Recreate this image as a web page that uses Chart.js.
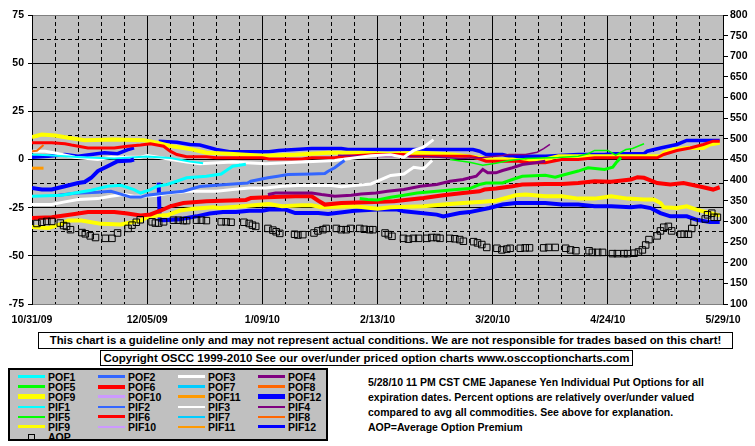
<!DOCTYPE html>
<html>
<head>
<meta charset="utf-8">
<script src="https://cdn.jsdelivr.net/npm/chart.js@4.4.0/dist/chart.umd.min.js"></script>
<style>
  html, body { margin: 0; padding: 0; background: #fff; }
  body { width: 755px; height: 446px; position: relative; overflow: hidden;
         font: bold 11px "Liberation Sans", Arial, sans-serif; color: #000; }
  #wrap { position: absolute; left: 0; top: 0; width: 755px; height: 330px; }
  .box { position: absolute; border: 1px solid #000; background: #fff; text-align: center; white-space: nowrap; }
  #disc { left: 38px; top: 332px; width: 693px; height: 15px; line-height: 15px; font-size: 11.3px; }
  #copy { left: 100px; top: 350px; width: 531px; height: 14px; line-height: 14px; font-size: 11.5px; }
  #legend { position: absolute; left: 8px; top: 368px; width: 316px; height: 69px;
            border: 2px solid #000; background: #c0c0c0; font-size: 10.5px; }
  .item { position: absolute; height: 10px; line-height: 10px; white-space: nowrap; }
  .sw { position: absolute; left: 0; width: 27px; }
  .sq { position: absolute; left: 10px; top: 2px; width: 5px; height: 5px; border: 1px solid #000; }
  .lb { position: absolute; left: 30px; top: 0; }
  #info { position: absolute; left: 368px; top: 375px; line-height: 15px; white-space: nowrap; font-size: 10.5px; }
</style>
</head>
<body>
<div id="wrap"><canvas id="chart" width="755" height="330"></canvas></div>
<div class="box" id="disc">This chart is a guideline only and may not represent actual conditions. We are not responsible for trades based on this chart!</div>
<div class="box" id="copy">Copyright OSCC 1999-2010 See our over/under priced option charts www.osccoptioncharts.com</div>
<div id="legend"></div>
<div id="info">5/28/10 11 PM CST CME Japanese Yen Individual Put Options for all<br>expiration dates. Percent options are relatively over/under valued<br>compared to avg all commodities. See above for explanation.<br>AOP=Average Option Premium</div>
<script>
// x = days since 10/31/09, y = percent over/under (left axis); AOP on right axis
const dateLabels = ['10/31/09', '12/05/09', '1/09/10', '2/13/10', '3/20/10', '4/24/10', '5/29/10'];

const pof1 = [[0,-19.1],[9,-18.6],[13,-17.4],[18,-16],[23,-13.9],[27,-13.4],[31,-15.6],[33,-17.4],[36,-15.6],[38,-13.9],[41,-13],[44,-11.3],[47,-9.5],[53,-8.7],[57.5,-7.5],[59.5,-5.2],[61,-3.5],[65,-2.5]];
const pof2 = [[8,-18.5],[13,-17.5],[20,-17],[24,-16.5],[28,-18.5],[30,-19.5],[33,-19.5],[35,-18.5],[40,-17.5],[46,-16.5],[51,-14],[59,-13],[65.5,-12.2],[66.5,-11.3],[71.7,-9.5],[74.7,-8.7],[77.8,-7.8],[85,-7.5],[89,-7.3],[90,-6.1],[92,-4.3],[94,-1.7],[95,-0.5]];
const pof3 = [[0,-23.4],[6,-23.4],[10,-22],[14,-20.8],[20,-20.3],[24,-19.1],[28,-18.2],[31,-19.1],[34,-19.1],[38,-18.6],[42,-17.4],[48,-16.5],[56,-16.5],[61,-15.6],[66,-14.8],[71,-14.8],[76,-13.9],[81,-13.5],[91,-13.5],[94,-14.2],[98,-13.5],[103,-12.7],[109,-8.3],[113,-7.5],[116,-4],[119,-4.8],[121.6,-0.5]];
const pof4 = [[71.7,-18.2],[74,-17.4],[85,-17.4],[88,-18.2],[92,-19.1],[97,-18.5],[100,-17.9],[104.5,-17.4],[108,-16.5],[113,-15.6],[118,-13.9],[123,-13],[127,-11.3],[131,-10.4],[135,-8.7],[137,-5.2],[138.5,-6.9],[141,-6.9],[143,-5.7],[146,-4.3],[149,-2.6],[153,-1.7],[156,-0.9]];
const pof5 = [[99.6,-20.3],[102,-20.8],[105,-21],[109,-19.6],[113,-18.6],[117,-17.4],[123,-16.5],[129,-15.6],[133,-15.1],[136,-13],[138,-12.2],[143,-12.2],[146,-10.4],[149,-8.7],[156,-8.2],[159,-9.2],[162,-7.8],[166,-6],[169,-4.3],[174,-5.2],[176.5,-4],[177.5,-1.7],[179,1]];
const pof6 = [[0,-30.4],[6,-30],[13,-28.3],[17,-27.3],[25,-27.3],[29,-28],[33,-29],[36,-28.5],[39,-26.6],[42,-24.3],[46,-22.6],[53,-21.7],[65,-21],[66.5,-20],[71.5,-19.6],[80,-19.1],[85,-19.1],[87,-21.4],[89,-23.4],[94,-22.6],[104,-22],[110,-21.7],[119,-20],[125,-18.6],[131,-17.4],[136,-16.5],[137.5,-15.6],[141,-15.1],[146,-13.9],[149,-13],[156,-12.7],[161,-12.7],[166,-12.2],[171,-11.3],[176,-11.6],[182,-10.4],[184,-9.2],[186,-9.5],[190,-12.2],[194,-13],[198,-12.2],[204,-14.4],[207,-15.6],[209,-14.4]];
const pof7 = [];
const pof8 = [[0,4.3],[1.5,4.5],[3.5,7.5]];
const pof9 = [[0,-35],[5,-35.5],[9,-33.4],[11,-31.7],[15,-31.7],[21,-33.4],[27,-33.7],[33,-31.7],[35,-30],[38,-29.1],[41,-29],[45,-26.5],[49,-25.6],[55,-24.8],[57,-25.2],[64,-24.3],[70,-23.4],[72,-23.1],[76,-24.3],[82,-23.8],[85,-23.8],[88,-24.8],[98,-24.3],[105,-25.5],[109,-24.8],[119,-24.3],[125,-23.4],[131,-22.6],[136,-22],[141,-21.4],[147,-18.6],[150,-18.2],[156,-19.1],[161,-19.1],[166,-20.3],[171,-20.3],[176,-19.1],[181,-20.3],[186,-20.8],[189,-20.8],[191,-22.6],[192,-24.8],[196,-25.2],[199,-24.3],[202,-26],[206,-27.8],[209,-29]];
const pof10 = [];
const pof11 = [[0,-4.5],[3.5,-4.5]];
const pof12 = [[0,-14.8],[3,-15.6],[6,-15.6],[10,-13.9],[14,-12.2],[16,-11.7],[18,-9.5],[20,-6],[23,-3.5],[26,-0.9],[30,-0.5],[31,0],[35,null],[38.5,-12],[38.8,-31.3],[40,-31.5],[45,-31],[50,-29.5],[54,-28],[58,-27.3],[62,-27.3],[66,-26.6],[70,-26.6],[72,-26],[77,-26],[80,-27.8],[87,-27.8],[90,-28.3],[95,-27.3],[98,-26.6],[105,-26],[111,-26],[113,-26.9],[123,-28.6],[125,-29.5],[130,-27.8],[133,-27.3],[139,-25.2],[143,-23.4],[147,-22.6],[156,-22.6],[161,-23.4],[166,-23.4],[171,-24.3],[176,-24.3],[182,-24.8],[185,-24.3],[188,-25.2],[191,-27.8],[194,-29.5],[199,-29.5],[202,-31.3],[206,-32.5],[209,-32.5]];

const pif1 = [[0,2.6],[5,2.2],[15,1.2],[25,0.5],[35,1.5],[42,0.8],[48,-1],[52,-2]];
const pif2 = [];
const pif3 = [[0,4.3],[4,4.3],[7,3.4],[13,1.2],[20,0],[24,1.2],[33,1.2],[35,2.1],[41,0.4],[47,-1.3],[51,-2.2],[61,-1.3],[71,-2.2],[82,-1.3],[92,-0.5],[103,2],[109,2.5],[113,1.2],[116,4.7],[119,6.4],[122,10.3]];
const pif4 = [[93,2.2],[100,1.8],[106,1.5],[120,1.5],[130,0.5],[137,1],[143,2.1],[145,2.6],[150,2.6],[153.5,3.8],[155.5,5.6],[157.4,7.8]];
const pif5 = [[127,0],[133,-1.4],[137,-3],[141,-2],[145,-0.5],[150,0.5],[160,1],[166,1.7],[169,3],[171,4.7],[175,4.7],[177.4,2.3],[180.5,5.2],[182.5,5.7],[186,8.2]];
const pif6 = [[0,8.7],[6,8.7],[10,8.2],[12,7.5],[17,6],[25,6],[29,6.9],[33,7.5],[36,8.2],[40,6.9],[42,4.3],[44,2.6],[47,1.4],[53,1.4],[56,0.9],[70,0.9],[72,0.3],[82,0.3],[85,0.9],[92,0.9],[95,1.7],[105,2.6],[113,2.6],[115,1.7],[133,1.7],[135,0.9],[138,-0.9],[148,-0.9],[151,-1.7],[156,-1.7],[161,0],[166,0],[171,0.9],[190,0.9],[192,2.6],[196,4.7],[200,6],[204,7.8],[207,9.5],[209,9.5]];
const pif7 = [];
const pif8 = [];
const pif9 = [[0,11.6],[3,13],[7,12.5],[11,11.3],[16,10],[25,10.4],[34,10],[38,8.7],[42,7],[48,5.5],[53,3.5],[60,3],[70,2],[80,2.5],[90,3.5],[100,3.5],[108,3],[118,3.5],[128,2.6],[136,0.9],[140,0],[146,0],[150,-0.9],[156,0],[160,1.7],[175,1.7],[191,1.7],[192,3.5],[195,5.2],[199,6],[204,6],[206,7.8],[209,8.7]];
const pif10 = [];
const pif11 = [];
const pif12 = [[0,1.2],[5,1.7],[10,2.6],[14,1.7],[18,2.6],[22,3.5],[26,3],[29,5],[31,6],[35,null],[38.5,9.5],[44,9],[48,7.8],[51,7.5],[56,5.2],[60,4],[72,4],[75,4.7],[80,5.2],[85,5.7],[94,5.7],[96,5.2],[123,5.2],[134,5.2],[136,4.3],[138,2.6],[143,2.6],[145,1.7],[156,1.7],[166,2.6],[174,2.6],[176,3],[186,3],[187,4.3],[191,6],[196,7.8],[199,9.9],[209,9.9]];

const aop = [[1.5,295],[3,298],[4.5,300],[6,300],[8.6,296],[9.6,290],[10.5,288],[11.7,280],[15.2,273],[16.2,270],[17.7,265],[19.3,261],[22.3,259],[24.3,259],[26,272],[29.2,283],[30.4,291],[31.7,298],[32.9,304],[36.5,299],[37.5,296],[38.5,296],[40,299],[43,303],[44.5,303],[46,302],[47,302],[50,303],[51.5,303],[53,302],[57.5,299],[59,299],[60.5,298],[64.4,298],[66,295],[67,291],[68,288],[71.7,283],[73.2,279],[74.2,275],[75.3,271],[79.8,269],[80.8,267],[82.3,268],[85.7,272],[86.9,277],[88.4,280],[89.4,283],[92.5,283],[94,280],[95.5,280],[96.8,283],[99.6,283],[101,281],[102.6,280],[103.6,280],[107.3,272],[108.3,268],[109.4,264],[112.9,259],[114.4,257],[115.9,259],[117.5,259],[120,259],[121.5,261],[123,261],[124,259],[127,259],[128.5,258],[130,256],[131.1,252],[134.2,251],[135.4,248],[136.7,244],[138.2,237],[141.3,235],[142.8,231],[144.3,233],[145.3,235],[148.4,235],[149.9,236],[151.2,236],[155.5,236],[157,237],[159,237],[162.2,235],[163.7,231],[165.3,229],[169.3,229],[170.3,225],[171.9,225],[173.4,225],[176.4,222],[177.9,222],[179.9,222],[181,222],[183,223],[184.3,226],[185.5,231],[186.5,243],[187.5,256],[190,265],[191,277],[192,286],[193.4,288],[194.4,277],[197.2,269],[198.2,269],[199.5,269],[200.5,283],[201.2,298],[204.6,306],[205.3,316],[206.6,320],[207.3,310],[208.3,310]];

// name, data, colour, plot line width
const series = [
  ['POF1', pof1, '#00ffff', 3], ['POF2', pof2, '#3366ff', 3], ['POF3', pof3, '#ffffff', 3], ['POF4', pof4, '#800080', 3],
  ['POF5', pof5, '#00ff00', 3], ['POF6', pof6, '#ff0000', 4], ['POF7', pof7, '#00ccff', 3], ['POF8', pof8, '#ff6600', 2],
  ['POF9', pof9, '#ffff00', 4], ['POF10', pof10, '#cc99ff', 3], ['POF11', pof11, '#ff9900', 3], ['POF12', pof12, '#0000ff', 4],
  ['PIF1', pif1, '#00ffff', 2], ['PIF2', pif2, '#3366ff', 2], ['PIF3', pif3, '#ffffff', 3], ['PIF4', pif4, '#800080', 1.5],
  ['PIF5', pif5, '#00ff00', 1.5], ['PIF6', pif6, '#ff0000', 3], ['PIF7', pif7, '#00ccff', 2], ['PIF8', pif8, '#ff6600', 2],
  ['PIF9', pif9, '#ffff00', 4], ['PIF10', pif10, '#cc99ff', 2], ['PIF11', pif11, '#ff9900', 2], ['PIF12', pif12, '#0000ff', 3.5]
];
const legendWidth = { POF6: 4, POF9: 5, POF12: 5, PIF6: 3, PIF9: 3, PIF12: 3 };

const toPts = arr => arr.map(p => ({ x: p[0], y: p[1] }));

const datasets = [{
  label: 'AOP', data: toPts(aop), yAxisID: 'y2', showLine: false, order: 0,
  pointStyle: 'rect', pointRadius: 4.6, pointBorderWidth: 1,
  pointBorderColor: '#000', pointBackgroundColor: 'rgba(0,0,0,0)'
}];
series.forEach(s => datasets.push({
  label: s[0], data: toPts(s[1]), borderColor: s[2], borderWidth: s[3], yAxisID: 'y',
  pointRadius: 0, tension: 0, spanGaps: false, order: 1, borderCapStyle: 'butt'
}));

const plotBg = {
  id: 'plotBg',
  beforeDraw(chart) {
    const { ctx, chartArea: a } = chart;
    ctx.save();
    ctx.fillStyle = '#c0c0c0';
    ctx.fillRect(a.left, a.top, a.right - a.left, a.bottom - a.top);
    ctx.restore();
  }
};

Chart.defaults.font.family = '"Liberation Sans", Arial, sans-serif';
Chart.defaults.font.weight = 'bold';
Chart.defaults.font.size = 10.5;
Chart.defaults.color = '#000';

new Chart(document.getElementById('chart'), {
  type: 'line',
  data: { datasets },
  plugins: [plotBg],
  options: {
    responsive: false,
    animation: false,
    layout: { padding: { top: 15, left: 0, right: 0, bottom: 0 } },
    plugins: { legend: { display: false }, tooltip: { enabled: false } },
    scales: {
      x: {
        type: 'linear', min: 0, max: 210,
        afterFit: s => { s.height = 26; },
        ticks: {
          stepSize: 7, autoSkip: false, maxRotation: 0, padding: 10,
          callback: v => (v % 35 === 0 ? dateLabels[v / 35] : '')
        },
        grid: { color: '#000', lineWidth: 1, drawTicks: false },
        border: { display: false, dash: ctx => (ctx.tick && ctx.tick.value % 35 !== 0 ? [4, 3] : []) }
      },
      y: {
        position: 'left', min: -75, max: 75,
        afterFit: s => { s.width = 32; },
        ticks: { stepSize: 12.5, padding: 4, callback: v => (v % 25 === 0 ? v : '') },
        grid: {
          lineWidth: 1, tickLength: 4,
          color: ctx => (ctx.tick && Math.abs(ctx.tick.value) === 75 ? '#808080' : '#000'),
          tickColor: ctx => (ctx.tick && ctx.tick.value % 25 === 0 ? '#000' : 'rgba(0,0,0,0)')
        },
        border: { color: '#000', width: 1, dash: ctx => (ctx.tick && ctx.tick.value % 25 !== 0 ? [4, 3] : []) }
      },
      y2: {
        position: 'right', min: 100, max: 800,
        afterFit: s => { s.width = 32; },
        ticks: { stepSize: 50, padding: 2 },
        grid: { drawOnChartArea: false, tickLength: 5, tickColor: '#000' },
        border: { color: '#000', width: 1 }
      }
    }
  }
});

// HTML legend built from the series list
const leg = document.getElementById('legend');
const entries = series.map(s => ({ name: s[0], color: s[2], w: legendWidth[s[0]] || (s[0].startsWith('POF') ? 3 : 2) }));
entries.push({ name: 'AOP', square: true });
entries.forEach((e, i) => {
  const col = i % 4, row = Math.floor(i / 4);
  const it = document.createElement('div');
  it.className = 'item';
  it.style.left = (8 + 80 * col) + 'px';
  it.style.top = (1.5 + 10 * row) + 'px';
  if (e.square) {
    const q = document.createElement('div'); q.className = 'sq'; it.appendChild(q);
  } else {
    const sw = document.createElement('div'); sw.className = 'sw';
    sw.style.height = e.w + 'px'; sw.style.top = (5 - e.w / 2) + 'px'; sw.style.background = e.color;
    it.appendChild(sw);
  }
  const lb = document.createElement('div'); lb.className = 'lb'; lb.textContent = e.name;
  it.appendChild(lb);
  leg.appendChild(it);
});
</script>
</body>
</html>
